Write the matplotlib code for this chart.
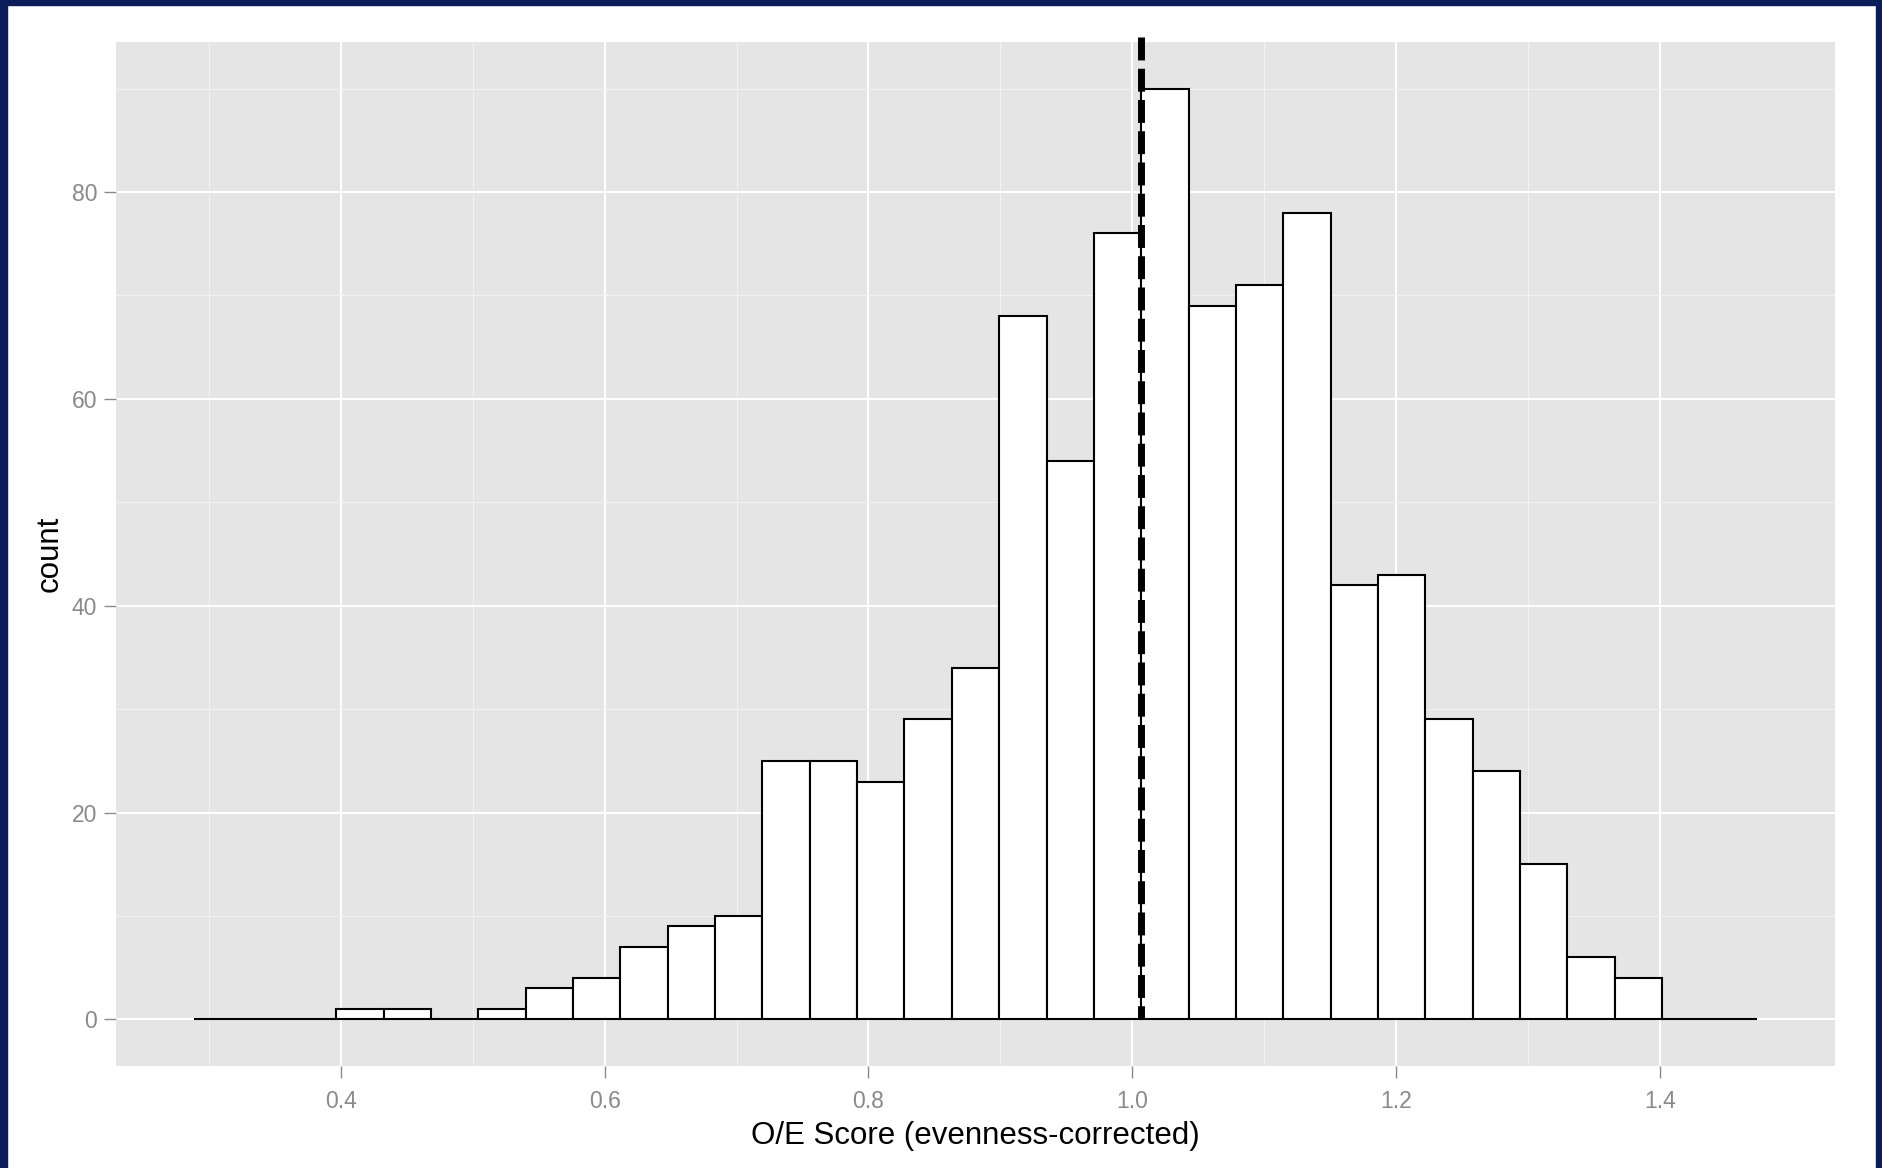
import matplotlib.pyplot as plt
import numpy as np
from matplotlib.patches import Rectangle

# histogram bins (33 bins)
bin_start = 0.2888
bin_width = 0.0359
counts = [0, 0, 0, 1, 1, 0, 1, 3, 4, 7, 9, 10, 25, 25, 23, 29, 34, 68, 54, 76,
          90, 69, 71, 78, 42, 43, 29, 24, 15, 6, 4, 0, 0]
mean_score = 1.0064
line_top = 95

x_ticks = [0.4, 0.6, 0.8, 1.0, 1.2, 1.4]
x_minor = [0.3, 0.5, 0.7, 0.9, 1.1, 1.3]
y_ticks = [0, 20, 40, 60, 80]
y_minor = [10, 30, 50, 70, 90]

plt.rcParams['font.family'] = ['Liberation Sans', 'DejaVu Sans']

W, H = 1883, 1168
fig = plt.figure(figsize=(W / 100, H / 100), dpi=100)
ax = fig.add_axes([116 / W, 1 - 1066 / H, (1835 - 116) / W, (1066 - 42) / H])

edges = bin_start + bin_width * np.arange(len(counts))
ax.bar(edges, counts, width=bin_width, align='edge', color='white',
       edgecolor='black', linewidth=1.5, zorder=2)

# dashed mean line
ax.plot([mean_score, mean_score], [line_top, 0], color='black', lw=5,
        linestyle=(0, (3.3, 1.2)), solid_capstyle='butt', dash_capstyle='butt',
        clip_on=False, zorder=3)

lo = bin_start
hi = bin_start + bin_width * len(counts)
pad = (hi - lo) * 0.05
ax.set_xlim(lo - pad, hi + pad)
ax.set_ylim(-4.5, 94.5)

ax.set_facecolor('#E5E5E5')
for s in ax.spines.values():
    s.set_visible(False)
ax.set_axisbelow(True)

ax.set_xticks(x_ticks)
ax.set_xticklabels([f'{v:.1f}' for v in x_ticks])
ax.set_xticks(x_minor, minor=True)
ax.set_yticks(y_ticks)
ax.set_yticks(y_minor, minor=True)
ax.grid(which='major', color='white', lw=1.4)
ax.grid(which='minor', color='#F2F2F2', lw=0.8)
ax.tick_params(which='major', length=8.5, width=1.0, color='#8a8a8a',
               labelcolor='#8a8a8a', labelsize=16.5, pad=5)
ax.tick_params(axis='x', which='major', pad=8.5)
ax.tick_params(which='minor', length=0)

ax.set_xlabel('O/E Score (evenness-corrected)', fontsize=22.5, labelpad=6)
ax.set_ylabel('count', fontsize=22.5, labelpad=5)

# navy frame on left, top and right
navy = '#0a1d58'
fig.patches.append(Rectangle((0, 0), 7 / W, 1, transform=fig.transFigure, color=navy))
fig.patches.append(Rectangle((0, 1 - 5 / H), 1, 5 / H, transform=fig.transFigure, color=navy))
fig.patches.append(Rectangle((1876 / W, 0), 7 / W, 1, transform=fig.transFigure, color=navy))

fig.savefig('out.png', dpi=100)
